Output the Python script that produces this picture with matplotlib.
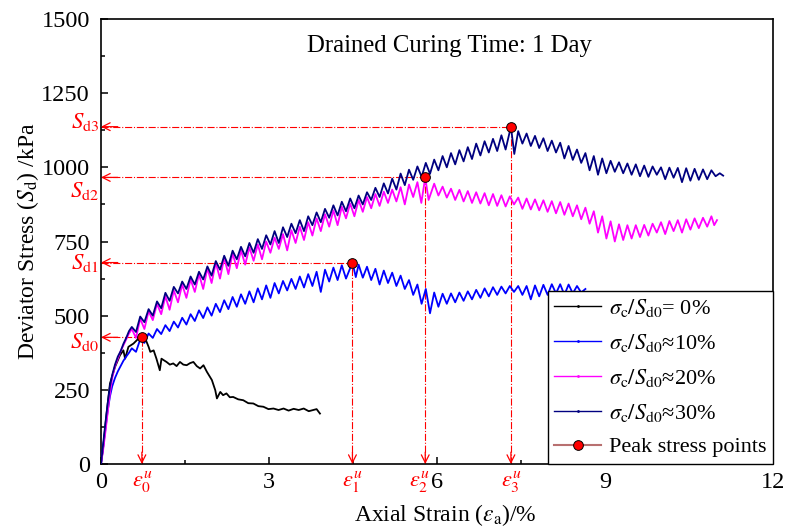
import matplotlib
matplotlib.use("Agg")
import matplotlib.pyplot as plt
from matplotlib.lines import Line2D
from matplotlib.ticker import MultipleLocator

plt.rcParams['font.family'] = ['Liberation Serif', 'DejaVu Serif']
plt.rcParams['mathtext.fontset'] = 'stix'

# ---------------- data ----------------
black_strain = [0, 0.04, 0.10, 0.16, 0.25, 0.34, 0.40, 0.43, 0.49, 0.58, 0.67, 0.73, 0.79, 0.85, 0.88,
                0.94, 0.99, 1.05, 1.08, 1.12, 1.17, 1.23, 1.29, 1.35, 1.41, 1.47, 1.53, 1.59, 1.65, 1.71,
                1.77, 1.83, 1.89, 1.98, 2.04, 2.07, 2.13, 2.18, 2.24, 2.30, 2.36, 2.45, 2.54, 2.63, 2.72,
                2.81, 2.90, 2.99, 3.08, 3.17, 3.26, 3.35, 3.44, 3.53, 3.62, 3.71, 3.79, 3.85, 3.91]
black_stress = [0, 58, 170, 271, 327, 367, 383, 355, 395, 406, 423, 427, 423, 395, 378,
                383, 355, 316, 355, 350, 344, 335, 339, 330, 344, 335, 333, 340, 344, 330,
                322, 333, 311, 283, 249, 221, 243, 232, 238, 225, 226, 218, 215, 205, 204,
                195, 193, 185, 187, 182, 187, 180, 186, 182, 187, 178, 182, 185, 170]

blue_strain = [0, 0.04, 0.08, 0.12, 0.16, 0.20, 0.25, 0.30, 0.35, 0.40, 0.45, 0.50,
               0.55, 0.625, 0.70, 0.775, 0.85, 0.925, 1.00, 1.075, 1.15, 1.225, 1.30, 1.375,
               1.45, 1.525, 1.60, 1.675, 1.75, 1.825, 1.90, 1.975, 2.05, 2.125, 2.20, 2.275,
               2.35, 2.425, 2.50, 2.575, 2.65, 2.725, 2.80, 2.875, 2.95, 3.025, 3.10, 3.175,
               3.25, 3.325, 3.40, 3.475, 3.55, 3.625, 3.70, 3.775, 3.85, 3.925, 4.00, 4.075,
               4.15, 4.225, 4.30, 4.375, 4.49, 4.55, 4.60, 4.675, 4.75, 4.825, 4.90, 4.975,
               5.05, 5.125, 5.20, 5.275, 5.35, 5.425, 5.50, 5.575, 5.65, 5.725, 5.80, 5.875,
               5.95, 6.025, 6.10, 6.175, 6.25, 6.325, 6.40, 6.475, 6.55, 6.625, 6.70, 6.775,
               6.85, 6.925, 7.00, 7.075, 7.15, 7.225, 7.30, 7.375, 7.45, 7.525, 7.60, 7.675,
               7.75, 7.825, 7.90, 7.975, 8.05, 8.125, 8.20, 8.275, 8.35, 8.425, 8.50, 8.575, 8.65]
blue_stress = [0, 60, 120, 180, 228, 262, 290, 312, 330, 348, 362, 375,
               390, 378, 420, 408, 440, 425, 455, 438, 468, 448, 480, 460,
               493, 470, 505, 482, 518, 492, 528, 500, 540, 512, 552, 522,
               563, 530, 572, 540, 582, 545, 592, 555, 602, 560, 610, 575,
               617, 585, 624, 590, 632, 595, 640, 600, 648, 580, 655, 615,
               662, 620, 670, 625, 679, 630, 672, 628, 665, 620, 658, 605,
               652, 610, 645, 600, 635, 590, 620, 570, 605, 540, 590, 508,
               578, 530, 574, 540, 575, 545, 578, 550, 582, 555, 587, 560,
               592, 565, 596, 570, 598, 575, 600, 580, 600, 570, 600, 555,
               602, 565, 604, 570, 606, 575, 606, 570, 605, 575, 600, 578, 590]

magenta_strain = [0, 0.04, 0.08, 0.12, 0.16, 0.20, 0.25, 0.30, 0.35, 0.40, 0.45, 0.50,
                  0.55, 0.625, 0.70, 0.775, 0.85, 0.925, 1.00, 1.075, 1.15, 1.225, 1.30, 1.375,
                  1.45, 1.525, 1.60, 1.675, 1.75, 1.825, 1.90, 1.975, 2.05, 2.125, 2.20, 2.275,
                  2.35, 2.425, 2.50, 2.575, 2.65, 2.725, 2.80, 2.875, 2.95, 3.025, 3.10, 3.175,
                  3.25, 3.325, 3.40, 3.475, 3.55, 3.625, 3.70, 3.775, 3.85, 3.925, 4.00, 4.075,
                  4.15, 4.225, 4.30, 4.375, 4.45, 4.525, 4.60, 4.675, 4.75, 4.825, 4.90, 4.975,
                  5.05, 5.125, 5.20, 5.275, 5.35, 5.425, 5.50, 5.575, 5.65, 5.72, 5.79, 5.85,
                  5.95, 6.025, 6.10, 6.175, 6.25, 6.325, 6.40, 6.475, 6.55, 6.625, 6.70, 6.775,
                  6.85, 6.925, 7.00, 7.075, 7.15, 7.225, 7.30, 7.375, 7.45, 7.525, 7.60, 7.675,
                  7.75, 7.825, 7.90, 7.975, 8.05, 8.125, 8.20, 8.275, 8.35, 8.425, 8.50, 8.575,
                  8.65, 8.725, 8.80, 8.875, 8.95, 9.025, 9.10, 9.175, 9.25, 9.325, 9.40, 9.475,
                  9.55, 9.625, 9.70, 9.775, 9.85, 9.925, 10.00, 10.075, 10.15, 10.225, 10.30, 10.375,
                  10.45, 10.525, 10.60, 10.675, 10.75, 10.825, 10.90, 10.95, 11.00]
magenta_stress = [0, 50, 110, 175, 240, 290, 330, 355, 380, 400, 420, 440,
                  455, 425, 490, 455, 515, 485, 540, 505, 565, 520, 585, 545,
                  605, 560, 622, 580, 640, 590, 660, 610, 678, 625, 695, 640,
                  710, 660, 720, 672, 730, 685, 740, 690, 750, 712, 763, 725,
                  775, 720, 788, 745, 800, 755, 815, 770, 828, 785, 842, 800,
                  855, 805, 867, 828, 878, 835, 890, 850, 900, 862, 910, 870,
                  918, 880, 925, 885, 933, 875, 942, 900, 950, 880, 966, 890,
                  945, 905, 935, 898, 928, 890, 924, 885, 920, 880, 916, 878,
                  913, 872, 910, 870, 906, 868, 902, 875, 898, 860, 895, 858,
                  892, 855, 889, 850, 886, 845, 883, 840, 878, 835, 872, 825,
                  864, 810, 852, 780, 835, 760, 818, 750, 808, 755, 805, 760,
                  805, 765, 806, 770, 810, 780, 815, 775, 819, 785, 822, 780,
                  825, 790, 828, 795, 830, 800, 835, 805, 822]

navy_strain = [0, 0.04, 0.08, 0.12, 0.16, 0.20, 0.25, 0.30, 0.35, 0.40, 0.45, 0.50,
               0.55, 0.625, 0.70, 0.775, 0.85, 0.925, 1.00, 1.075, 1.15, 1.225, 1.30, 1.375,
               1.45, 1.525, 1.60, 1.675, 1.75, 1.825, 1.90, 1.975, 2.05, 2.125, 2.20, 2.275,
               2.35, 2.425, 2.50, 2.575, 2.65, 2.725, 2.80, 2.875, 2.95, 3.025, 3.10, 3.175,
               3.25, 3.325, 3.40, 3.475, 3.55, 3.625, 3.70, 3.775, 3.85, 3.925, 4.00, 4.075,
               4.15, 4.225, 4.30, 4.375, 4.45, 4.525, 4.60, 4.675, 4.75, 4.825, 4.90, 4.975,
               5.05, 5.125, 5.20, 5.275, 5.35, 5.425, 5.50, 5.575, 5.65, 5.725, 5.80, 5.875,
               5.95, 6.025, 6.10, 6.175, 6.25, 6.325, 6.40, 6.475, 6.55, 6.625, 6.70, 6.775,
               6.85, 6.925, 7.00, 7.075, 7.15, 7.225, 7.32, 7.38, 7.45, 7.525, 7.60, 7.675,
               7.75, 7.825, 7.90, 7.975, 8.05, 8.125, 8.20, 8.275, 8.35, 8.425, 8.50, 8.575,
               8.65, 8.725, 8.80, 8.875, 8.95, 9.025, 9.10, 9.175, 9.25, 9.325, 9.40, 9.475,
               9.55, 9.625, 9.70, 9.775, 9.85, 9.925, 10.00, 10.075, 10.15, 10.225, 10.30, 10.375,
               10.45, 10.525, 10.60, 10.675, 10.75, 10.825, 10.90, 10.975, 11.05, 11.11]
navy_stress = [0, 70, 140, 205, 262, 300, 335, 362, 380, 405, 425, 448,
               462, 445, 497, 478, 522, 500, 548, 525, 577, 550, 597, 575,
               615, 590, 632, 605, 648, 622, 666, 635, 684, 655, 702, 668,
               719, 690, 732, 700, 745, 712, 758, 725, 771, 740, 785, 745,
               798, 765, 810, 778, 822, 785, 835, 805, 848, 815, 860, 830,
               872, 838, 884, 852, 895, 862, 905, 875, 916, 890, 931, 900,
               946, 912, 962, 925, 979, 940, 992, 958, 1003, 968, 1015, 978,
               1026, 990, 1038, 1000, 1048, 1010, 1058, 1020, 1068, 1028, 1080, 1040,
               1088, 1050, 1096, 1055, 1108, 1060, 1137, 1045, 1122, 1080, 1114, 1072,
               1106, 1065, 1098, 1055, 1090, 1050, 1083, 1030, 1072, 1025, 1060, 1015,
               1048, 990, 1038, 975, 1030, 980, 1022, 985, 1017, 980, 1013, 975,
               1010, 970, 1006, 968, 1003, 975, 1000, 960, 999, 965, 998, 950,
               997, 955, 995, 958, 993, 960, 990, 970, 980, 972]

peak_strain = [0.73, 4.49, 5.79, 7.32]
peak_stress = [427, 679, 966, 1137]
peak_stress_labels = [r'$S_{\rm d0}$', r'$S_{\rm d1}$', r'$S_{\rm d2}$', r'$S_{\rm d3}$']
peak_stress_label_y = [412, 676, 920, 1152]
peak_strain_labels = [r'$\varepsilon_0^u$', r'$\varepsilon_1^u$', r'$\varepsilon_2^u$', r'$\varepsilon_3^u$']
peak_strain_label_nudge = [0, 0, -4, 0]   # points, horizontal text nudge

series_labels = [r'$\sigma_{\rm c}/S_{\rm d0}$= 0%', r'$\sigma_{\rm c}/S_{\rm d0}$≈10%',
                 r'$\sigma_{\rm c}/S_{\rm d0}$≈20%', r'$\sigma_{\rm c}/S_{\rm d0}$≈30%',
                 'Peak stress points']
series_colors = ['black', '#0000ff', '#ff00ff', '#000080']

x_ticks = [0, 3, 6, 9, 12]
y_ticks = [0, 250, 500, 750, 1000, 1250, 1500]

# ---------------- figure ----------------
fig = plt.figure(figsize=(7.86, 5.28), dpi=100)
ax = fig.add_axes([101 / 786, 1 - 464 / 528, 672 / 786, 445 / 528])

curves = [(black_strain, black_stress), (blue_strain, blue_stress),
          (magenta_strain, magenta_stress), (navy_strain, navy_stress)]
for (xs, ys), c in zip(curves, series_colors):
    ax.plot(xs, ys, color=c, lw=1.3, zorder=3)

red = '#ff0000'
for x, y in zip(peak_strain, peak_stress):
    ax.plot([0, x], [y, y], color=red, lw=0.8, ls='-.', zorder=2)
    ax.plot([x, x], [0, y], color=red, lw=0.8, ls='-.', zorder=2)
    ax.annotate('', xy=(0, y), xytext=(0.3, y),
                arrowprops=dict(arrowstyle='->', color=red, lw=0.9, mutation_scale=14,
                                shrinkA=0, shrinkB=0), zorder=4)
    ax.annotate('', xy=(x, 0), xytext=(x, 40),
                arrowprops=dict(arrowstyle='->', color=red, lw=0.9, mutation_scale=14,
                                shrinkA=0, shrinkB=0), zorder=4)
ax.plot(peak_strain, peak_stress, 'o', ms=7, mfc=red, mec='black', mew=0.7, zorder=5)

btrans = matplotlib.transforms.blended_transform_factory(ax.transAxes, ax.transData)
for lab, ly in zip(peak_stress_labels, peak_stress_label_y):
    ax.text(-0.003, ly, lab, transform=btrans, color=red, fontsize=16.5,
            ha='right', va='center')
xtrans = matplotlib.transforms.blended_transform_factory(ax.transData, ax.transAxes)
for lab, lx, dx in zip(peak_strain_labels, peak_strain, peak_strain_label_nudge):
    ax.annotate(lab, xy=(lx, -0.012), xycoords=xtrans, xytext=(dx, 0),
                textcoords='offset points', color=red, fontsize=16,
                ha='center', va='top', annotation_clip=False)

ax.set_xlim(0, 12)
ax.set_ylim(0, 1500)
ax.set_xticks(x_ticks)
ax.set_yticks(y_ticks)
ax.xaxis.set_minor_locator(MultipleLocator(1.5))
ax.yaxis.set_minor_locator(MultipleLocator(125))
ax.tick_params(which='both', direction='in', top=False, right=False, labelsize=17.5, width=1.1)
ax.tick_params(which='major', length=5)
ax.tick_params(which='minor', length=3)
ax.tick_params(axis='x', pad=6)
ax.tick_params(axis='y', pad=8)
for s in ax.spines.values():
    s.set_linewidth(1.2)

ax.set_xlabel(r'Axial Strain ($\varepsilon_{\rm a}$)/%', fontsize=17, labelpad=1)
ax.xaxis.set_label_coords(0.513, -0.085)
ax.set_ylabel(r'Deviator Stress ($S_{\rm d}$) /kPa', fontsize=17, labelpad=0)

ax.text(0.519, 0.939, 'Drained Curing Time: 1 Day', transform=ax.transAxes,
        fontsize=17.8, ha='center', va='center')

handles = [Line2D([], [], color=c, lw=1.0, marker='.', ms=2) for c in series_colors]
handles.append(Line2D([], [], color='#b87070', lw=1.5, marker='o', ms=7, mfc=red,
                      mec='black', mew=0.7))
leg = ax.legend(handles, series_labels, loc='lower right', bbox_to_anchor=(1, 0),
                borderaxespad=0, fontsize=16, fancybox=False, edgecolor='black',
                framealpha=1, handlelength=2.1, handletextpad=0.35, labelspacing=0.58,
                borderpad=0.3)
leg.get_frame().set_linewidth(1.0)

fig.savefig('out.png', dpi=100)
